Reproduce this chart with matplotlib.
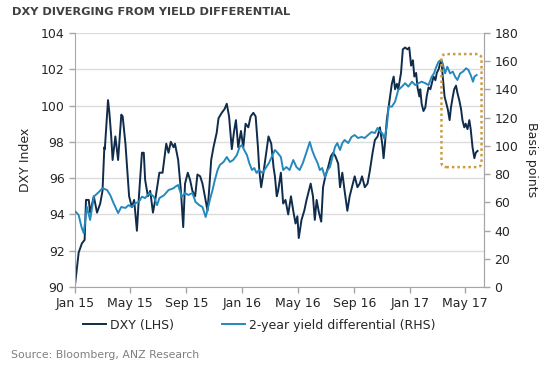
import pandas as pd
import numpy as np
import matplotlib.pyplot as plt
import matplotlib.dates as mdates
from matplotlib.patches import FancyBboxPatch

# ---- data (days since 1 Jan 2015) ----
dxy_days = [0, 8, 15, 21, 24, 30, 33, 41, 48, 55, 60, 64, 65, 72, 75, 79, 82, 88, 94, 101,
            104, 110, 113, 118, 124, 129, 135, 140, 146, 150, 153, 159, 164, 170, 175, 184,
            191, 199, 204, 209, 215, 218, 225, 231, 236, 240, 246, 251, 256, 262, 267, 273,
            278, 284, 289, 293, 297, 302, 309, 313, 320, 326, 331, 336, 342, 347, 351, 356,
            362, 367, 372, 378, 383, 389, 394, 399, 402, 406, 411, 416, 422, 428, 433, 436,
            440, 443, 449, 454, 459, 465, 471, 476, 481, 485, 488, 494, 500, 505, 510, 514,
            519, 523, 527, 532, 537, 541, 546, 552, 558, 563, 568, 574, 578, 583, 588, 594,
            599, 604, 610, 616, 621, 626, 632, 638, 643, 649, 654, 660, 665, 670, 673, 676,
            680, 686, 691, 695, 698, 702, 705, 711, 715, 720, 725, 729, 733, 737, 740, 744,
            747, 751, 753, 756, 760, 764, 767, 771, 775, 778, 782, 786, 789, 793, 796, 799,
            802, 806, 810, 813, 817, 820, 824, 827, 831, 834, 838, 842, 845, 849, 852, 856,
            860, 863, 867, 871, 874, 878]
dxy = [90.1, 91.9, 92.4, 92.6, 94.8, 94.8, 94.1, 95.0, 94.1, 94.6, 95.3, 97.7, 97.6, 100.3,
       99.6, 98.3, 97.0, 98.3, 97.0, 99.5, 99.4, 97.9, 96.8, 95.0, 94.4, 94.8, 93.1, 95.2,
       97.4, 97.4, 95.9, 95.0, 95.3, 94.1, 94.8, 96.3, 96.3, 97.9, 97.4, 98.0, 97.7, 97.9,
       97.0, 95.3, 93.3, 95.7, 96.3, 95.9, 95.3, 95.0, 96.2, 96.1, 95.7, 94.9, 94.2, 95.5,
       97.0, 97.7, 98.5, 99.3, 99.6, 99.8, 100.1, 99.4, 97.6, 98.6, 99.2, 97.7, 98.6, 97.7,
       99.0, 98.8, 99.4, 99.6, 99.4, 97.7, 96.4, 95.5, 96.3, 97.2, 98.3, 97.9, 96.6, 96.1,
       95.0, 95.3, 96.3, 94.6, 94.8, 94.0, 95.0, 94.2, 93.5, 93.9, 92.7, 93.7, 94.2, 94.8,
       95.3, 95.7, 95.0, 93.7, 94.8, 94.1, 93.6, 95.5, 96.1, 96.6, 97.2, 97.4, 97.2, 96.8,
       95.5, 96.3, 95.3, 94.2, 95.0, 95.5, 96.1, 95.5, 95.7, 96.1, 95.5, 95.7, 96.4, 97.4,
       98.1, 98.3, 98.8, 97.9, 97.1, 97.9, 99.2, 100.3, 101.2, 101.6, 100.9, 101.2, 100.9,
       101.8, 103.1, 103.2, 103.1, 103.2, 102.2, 102.5, 101.6, 101.8, 101.0, 100.5, 100.9,
       100.1, 99.7, 99.9, 100.5, 101.0, 100.9, 101.2, 101.6, 101.4, 101.8, 102.0, 102.3,
       102.5, 101.6, 100.5, 100.1, 99.8, 99.2, 99.9, 100.5, 100.9, 101.1, 100.7, 100.3,
       99.8, 99.2, 98.8, 99.0, 98.7, 99.2, 98.7, 97.7, 97.1, 97.4, 97.5]

spread_days = [1, 8, 14, 19, 26, 33, 41, 52, 60, 70, 77, 84, 94, 101, 110, 117, 124, 132,
               139, 146, 153, 162, 172, 179, 184, 194, 204, 215, 218, 225, 233, 240, 247,
               256, 263, 271, 278, 285, 290, 295, 300, 305, 311, 316, 324, 331, 338, 345,
               353, 359, 364, 369, 375, 380, 386, 391, 396, 401, 409, 416, 423, 431, 436,
               442, 449, 454, 461, 468, 476, 483, 490, 497, 505, 512, 517, 523, 529, 534,
               539, 545, 551, 556, 561, 567, 572, 578, 583, 588, 596, 603, 610, 617, 625,
               632, 639, 647, 654, 660, 666, 670, 675, 680, 684, 691, 698, 705, 713, 720,
               727, 735, 742, 749, 756, 764, 771, 778, 783, 788, 793, 798, 802, 807, 812,
               818, 824, 829, 834, 840, 846, 853, 858, 863, 868, 871, 876]
spread = [53.4, 51.0, 42.7, 38.2, 56.7, 47.5, 64, 67.3, 70, 68.7, 65, 59.5, 52.4, 56.7, 56,
          58, 56.7, 59.5, 60.2, 64, 63, 66.6, 64, 58, 63, 65, 68.7, 70, 70.9, 72.3, 63.8,
          66.6, 65.2, 66.6, 60.2, 58, 56.7, 49.6, 56, 63, 68.7, 75.8, 82.9, 86.5, 88.6,
          92.1, 88.6, 90, 93.5, 99.2, 100.6, 97.1, 93.5, 87.9, 82.9, 84.3, 80.8, 82.9, 80.8,
          84.3, 87.9, 93.5, 97.1, 95, 92.1, 82.9, 85, 82.9, 90, 85, 82.9, 87.9, 95.7, 102.8,
          97.1, 92.1, 87.9, 82.9, 84.3, 77.9, 82.9, 85, 91.4, 99.2, 102, 97.1, 102, 104.2,
          102, 106.3, 107.7, 105.6, 106.3, 105.6, 107.7, 109.8, 109.1, 112.7, 110, 109.1,
          105, 113.6, 128, 127.8, 131.3, 139.6, 142, 144.4, 142, 145.5, 143.1, 144.4, 145.5,
          144.4, 143.1, 149, 151.4, 156.1, 159.7, 160.9, 158.5, 151.4, 156.1, 151.4, 152.6,
          149, 146.7, 151.4, 152.6, 155, 153.8, 150.2, 145.5, 149, 150.2]

tick_dates = ["2015-01-01", "2015-05-01", "2015-09-01", "2016-01-01",
              "2016-05-01", "2016-09-01", "2017-01-01", "2017-05-01"]

start = pd.Timestamp("2015-01-01")
dxy_dates = start + pd.to_timedelta(dxy_days, unit="D")
spread_dates = start + pd.to_timedelta(spread_days, unit="D")

DARK = "#0f2c4b"
LIGHT = "#2589bd"
GRID = "#dcdcdc"
SPINE = "#a6a6a6"
TXT = "#262626"

plt.rcParams["font.family"] = "DejaVu Sans"

fig = plt.figure(figsize=(5.54, 3.73), dpi=100)
ax = fig.add_axes([75/554, 1-287/373, 409/554, 254/373])
ax2 = ax.twinx()

l1, = ax.plot(dxy_dates, dxy, color=DARK, lw=1.4, label="DXY (LHS)")
l2, = ax2.plot(spread_dates, spread, color=LIGHT, lw=1.4, label="2-year yield differential (RHS)")

ax.set_xlim(pd.Timestamp("2015-01-01"), pd.Timestamp("2017-06-11"))
ax.set_ylim(90, 104)
ax2.set_ylim(0, 180)
ax.set_yticks(np.arange(90, 105, 2))
ax2.set_yticks(np.arange(0, 181, 20))
ax.set_xticks(pd.to_datetime(tick_dates))
ax.xaxis.set_major_formatter(mdates.DateFormatter("%b %y"))

ax.grid(axis="y", color=GRID, lw=1)
ax.set_axisbelow(True)

for a in (ax, ax2):
    a.spines["top"].set_visible(False)
    for s in ("left", "right", "bottom"):
        a.spines[s].set_color(SPINE)
    a.tick_params(colors=SPINE, labelcolor=TXT, labelsize=9, length=4, width=1)
ax2.spines["left"].set_visible(False)
ax2.spines["bottom"].set_visible(False)

ax.set_ylabel("DXY Index", fontsize=9, color=TXT, labelpad=6)
ax2.set_ylabel("Basis points", fontsize=9, color=TXT, rotation=270, labelpad=14)

# dotted highlight box around the recent divergence (axes fraction coords)
box = FancyBboxPatch((0.896, 0.472), 0.098, 0.445,
                     boxstyle="round,pad=0,rounding_size=0.012",
                     mutation_aspect=409/254,
                     fill=False, ec="#cf9b3c", lw=1.8, ls=(0, (1, 1.2)),
                     transform=ax2.transAxes, zorder=5, clip_on=False)
ax2.add_patch(box)

fig.text(12/554, 1-12/373, "DXY DIVERGING FROM YIELD DIFFERENTIAL", fontsize=8.2,
         fontweight="bold", color="#404040", va="center", ha="left")
fig.legend(handles=[l1, l2], loc="center", bbox_to_anchor=(259/554, 1-325/373),
           ncol=2, frameon=False, fontsize=9, handlelength=1.9, handletextpad=0.3,
           columnspacing=3.8, labelcolor=TXT)
fig.text(11/554, 1-355/373, "Source: Bloomberg, ANZ Research", fontsize=7.8,
         color="#7f7f7f", va="center", ha="left")

fig.savefig("out.png", dpi=100)
